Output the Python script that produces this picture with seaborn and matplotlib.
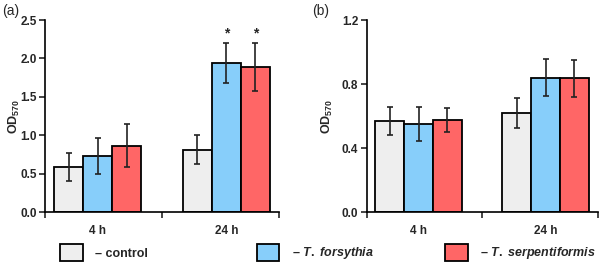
import numpy as np
import pandas as pd
import seaborn as sns
import matplotlib.pyplot as plt
from matplotlib.patches import Patch

# data
times = ['4 h', '24 h']
groups = ['control', 'T. forsythia', 'T. serpentiformis']
colors = ['#EEEEEE', '#87CEFA', '#FF6666']

a_control = [0.59, 0.81]
a_forsythia = [0.73, 1.94]
a_serpentiformis = [0.86, 1.89]
a_control_err = [0.18, 0.19]
a_forsythia_err = [0.24, 0.26]
a_serpentiformis_err = [0.28, 0.31]
a_star = [[False, False], [False, True], [False, True]]

b_control = [0.57, 0.62]
b_forsythia = [0.55, 0.84]
b_serpentiformis = [0.575, 0.835]
b_control_err = [0.087, 0.092]
b_forsythia_err = [0.106, 0.117]
b_serpentiformis_err = [0.075, 0.118]

a_yticks = [0.0, 0.5, 1.0, 1.5, 2.0, 2.5]
b_yticks = [0.0, 0.4, 0.8, 1.2]

sns.set_style('ticks')
plt.rcParams['font.family'] = ['Liberation Sans', 'DejaVu Sans']
plt.rcParams['mathtext.fontset'] = 'custom'
plt.rcParams['mathtext.rm'] = 'Liberation Sans:bold'
plt.rcParams['mathtext.it'] = 'Liberation Sans:italic:bold'
plt.rcParams['mathtext.bf'] = 'Liberation Sans:bold'


def make_df(vals):
    rows = []
    for g, v in zip(groups, vals):
        for t, y in zip(times, v):
            rows.append({'time': t, 'group': g, 'od': y})
    return pd.DataFrame(rows)


def draw_panel(ax, vals, errs, yticks, label_x, stars=None):
    df = make_df(vals)
    sns.barplot(data=df, x='time', y='od', hue='group', hue_order=groups,
                palette=colors, saturation=1, edgecolor='black', linewidth=1.3,
                width=0.68, errorbar=None, legend=False, ax=ax)
    bar_sets = list(ax.containers)
    for i, cont in enumerate(bar_sets):
        xs = [b.get_x() + b.get_width() / 2 for b in cont]
        ys = [b.get_height() for b in cont]
        ax.errorbar(xs, ys, yerr=errs[i], fmt='none', ecolor='#222222',
                    elinewidth=1.2, capsize=2.5, capthick=1.2, zorder=5)
        if stars is not None:
            for j in range(len(xs)):
                if stars[i][j]:
                    ax.text(xs[j], ys[j] + errs[i][j] + 0.015 * yticks[-1], '*',
                            ha='center', va='bottom', fontsize=10,
                            fontweight='bold')
    ax.set_xlim(-0.41, 1.41)
    ax.set_ylim(0, yticks[-1])
    ax.set_yticks(yticks)
    ax.set_yticklabels(['%.1f' % t for t in yticks], fontsize=8.5,
                       fontweight='bold')
    ax.set_xticks([0, 1])
    ax.set_xticklabels(times, fontsize=8.5, fontweight='bold')
    ax.set_xticks([-0.41, 0.5, 1.41], minor=True)
    ax.tick_params(axis='x', which='major', length=0, pad=9)
    ax.tick_params(axis='x', which='minor', length=4, width=1.2, direction='out')
    ax.tick_params(axis='y', length=4, width=1.2, direction='out', pad=2)
    ax.set_xlabel('')
    ax.set_ylabel(r'$\mathrm{OD}_{570}$', fontsize=9)
    ax.yaxis.set_label_coords(label_x, 0.5)
    sns.despine(ax=ax)
    for s in ['left', 'bottom']:
        ax.spines[s].set_linewidth(1.2)
        ax.spines[s].set_color('black')


fig = plt.figure(figsize=(6, 2.73), dpi=100)
ax1 = fig.add_axes([0.075, 0.2234, 0.39, 0.7033])
ax2 = fig.add_axes([0.611, 0.2234, 0.385, 0.7033])

draw_panel(ax1, [a_control, a_forsythia, a_serpentiformis],
           [a_control_err, a_forsythia_err, a_serpentiformis_err],
           a_yticks, -0.1, a_star)
draw_panel(ax2, [b_control, b_forsythia, b_serpentiformis],
           [b_control_err, b_forsythia_err, b_serpentiformis_err],
           b_yticks, -0.137)

fig.text(0.003, 0.96, '(a)', fontsize=10, ha='left', va='center')
fig.text(0.52, 0.96, '(b)', fontsize=10, ha='left', va='center')

labels = ['– control', r'– $\mathit{T.\ forsythia}$',
          r'– $\mathit{T.\ serpentiformis}$']
leg_x = [0.1, 0.428, 0.742]
for lab, col, x in zip(labels, colors, leg_x):
    h = Patch(facecolor=col, edgecolor='black', linewidth=1.3)
    leg = fig.legend([h], [lab], loc='center left', bbox_to_anchor=(x, 0.075),
                     frameon=False, handlelength=1.8, handleheight=1.8,
                     handletextpad=1.0, borderpad=0, borderaxespad=0,
                     prop={'size': 9, 'weight': 'bold'})

fig.savefig('out.png', dpi=100)
